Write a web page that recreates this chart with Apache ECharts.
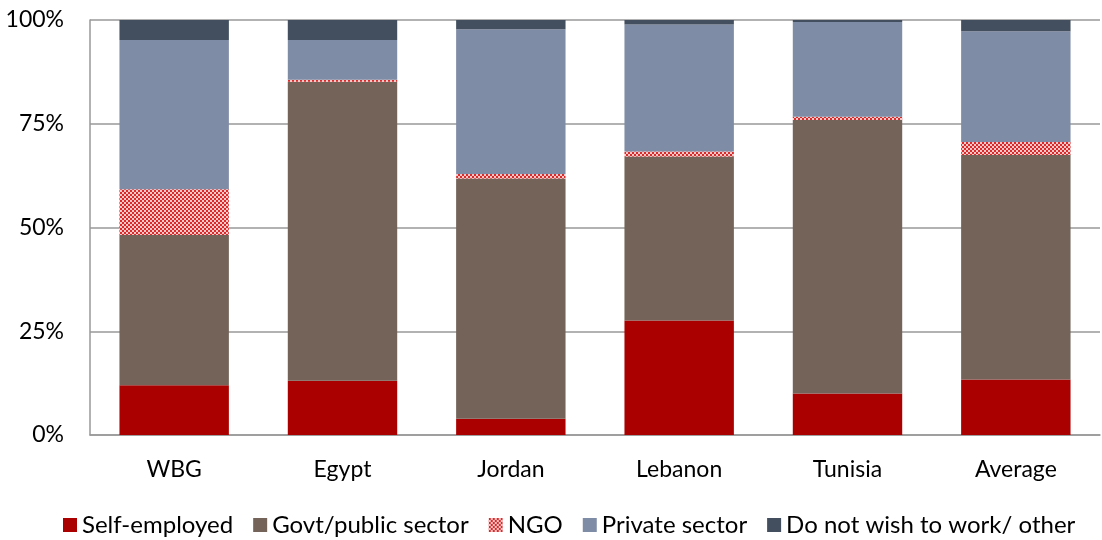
<!DOCTYPE html>
<html>
<head>
<meta charset="utf-8">
<script src="https://cdn.jsdelivr.net/npm/echarts@6/dist/echarts.min.js"></script>
<style>
html,body{margin:0;padding:0;background:#fff;}
#chart{width:1102px;height:540px;}
</style>
</head>
<body>
<div id="chart"></div>
<script>
const categories = ['WBG', 'Egypt', 'Jordan', 'Lebanon', 'Tunisia', 'Average'];
const selfEmployed = [12.0, 13.1, 3.9, 27.6, 10.0, 13.4];
const govtPublic   = [36.2, 72.0, 57.9, 39.5, 65.9, 54.1];
const ngo          = [11.0, 0.5, 1.1, 1.2, 0.8, 3.1];
const privateSector= [36.0, 9.6, 34.9, 30.6, 22.8, 26.7];
const otherNoWork  = [4.8, 4.8, 2.2, 1.1, 0.5, 2.7];
const yTicks = [0, 25, 50, 75, 100];

function checker() {
  const c = document.createElement('canvas');
  c.width = 4; c.height = 4;
  const g = c.getContext('2d');
  g.fillStyle = '#f7c9c9';
  g.fillRect(0, 0, 4, 4);
  g.fillStyle = '#dc2a2a';
  g.fillRect(0, 0, 2, 2);
  g.fillRect(2, 2, 2, 2);
  return c;
}

const FONT = 'Lato';
const chart = echarts.init(document.getElementById('chart'), null, {renderer: 'canvas'});
const names = ['Self-employed', 'Govt/public sector', 'NGO', 'Private sector', 'Do not wish to work/ other'];
const datas = [selfEmployed, govtPublic, ngo, privateSector, otherNoWork];
const colors = ['#aa0000', '#736358', {image: checker(), repeat: 'repeat'}, '#7f8ca6', '#434f5e'];

chart.setOption({
  animation: false,
  backgroundColor: '#ffffff',
  grid: {left: 90, right: 2, top: 20, bottom: 105, containLabel: false},
  legend: {
    top: 508,
    left: 58,
    itemWidth: 14,
    itemHeight: 14,
    itemGap: 20,
    icon: 'rect',
    textStyle: {fontFamily: FONT, fontSize: 24, color: '#000'},
    data: names
  },
  xAxis: {
    type: 'category',
    data: categories,
    axisLine: {show: true, lineStyle: {color: '#999999', width: 1.5}},
    axisTick: {show: false},
    axisLabel: {fontFamily: FONT, fontSize: 23, color: '#000', margin: 23}
  },
  yAxis: {
    type: 'value',
    min: 0, max: 100, interval: 25,
    axisLine: {show: true, lineStyle: {color: '#999999', width: 1.5}},
    axisTick: {show: false},
    splitLine: {show: true, lineStyle: {color: '#999999', width: 1.5}},
    axisLabel: {
      fontFamily: FONT, fontSize: 23, color: '#000', margin: 26,
      formatter: v => yTicks.includes(v) ? v + '%' : ''
    }
  },
  series: names.map((n, i) => ({
    name: n,
    type: 'bar',
    stack: 'total',
    barWidth: '65%',
    data: datas[i],
    itemStyle: {color: colors[i]}
  }))
});
</script>
</body>
</html>
